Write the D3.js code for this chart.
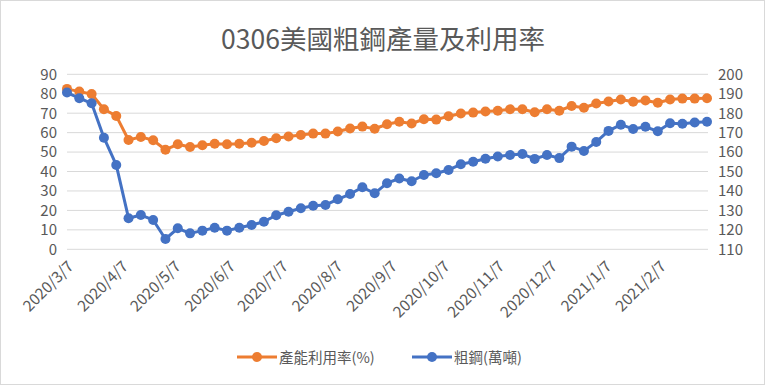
<!DOCTYPE html>
<html><head><meta charset="utf-8">
<script src="https://cdn.jsdelivr.net/npm/d3@7"></script>
<style>
html,body{margin:0;padding:0;background:#fff;}
text{font-family:"Noto Sans CJK TC","Noto Sans",sans-serif;}
</style></head>
<body>
<svg id="chart" width="765" height="385"></svg>
<script>
const title = "0306美國粗鋼產量及利用率";
const startDate = "2020-03-07";
const weeks = 53;
const seriesNames = ["產能利用率(%)", "粗鋼(萬噸)"];
const utilization = [82.5,81.1,79.9,72.0,68.6,56.2,57.8,56.1,51.2,54.0,52.6,53.5,54.3,54.0,54.3,54.8,55.7,57.1,58.0,58.8,59.5,59.5,60.6,62.1,63.1,62.0,64.3,65.6,64.7,66.9,66.7,68.4,69.8,70.3,70.9,71.3,72.0,72.0,70.5,72.0,71.3,73.7,72.8,75.0,76.0,77.0,75.9,76.5,75.4,77.0,77.5,77.5,77.7];
const crudeSteel = [190.6,187.7,185.1,167.4,153.4,126.0,127.6,125.1,115.3,120.8,118.2,119.6,121.1,119.6,121.1,122.5,124.2,127.5,129.3,131.1,132.4,132.8,135.7,138.4,141.9,138.8,144.0,146.4,145.0,148.2,149.1,150.8,153.7,155.0,156.6,157.7,158.5,159.0,156.5,158.5,156.9,162.8,160.6,165.2,170.9,174.1,171.9,173.0,170.7,174.8,174.6,175.2,175.6];
const leftTicks = [0,10,20,30,40,50,60,70,80,90];
const rightTicks = [110,120,130,140,150,160,170,180,190,200];
const xTickLabels = ["2020/3/7","2020/4/7","2020/5/7","2020/6/7","2020/7/7","2020/8/7","2020/9/7","2020/10/7","2020/11/7","2020/12/7","2021/1/7","2021/2/7"];

const parse = d3.timeParse("%Y-%m-%d");
const parseLbl = d3.timeParse("%Y/%m/%d");
const d0 = parse(startDate);
const dates = d3.range(weeks).map(i => d3.timeDay.offset(d0, 7*i));

const svg = d3.select("#chart");
const W = 765, H = 385;
const L = 67, R = 707, T = 74.3, B = 249.3;
const grey = "#595959";

svg.append("rect").attr("x",0.5).attr("y",0.5).attr("width",W-1).attr("height",H-1)
  .attr("fill","#fff").attr("stroke","#D9D9D9");

const x = d3.scaleTime().domain([dates[0], dates[dates.length-1]]).range([L, R]);
const yL = d3.scaleLinear().domain([0,90]).range([B, T]);
const yR = d3.scaleLinear().domain([110,200]).range([B, T]);

// gridlines
svg.append("g").selectAll("line").data(leftTicks).join("line")
  .attr("x1",L).attr("x2",R+1).attr("y1",d=>yL(d)).attr("y2",d=>yL(d))
  .attr("stroke","#D9D9D9").attr("stroke-width",1);

// left axis
const ga = svg.append("g").attr("transform",`translate(${L-10},0)`)
  .call(d3.axisLeft(yL).tickValues(leftTicks).tickSize(0).tickPadding(0));
ga.select(".domain").remove();
ga.selectAll("text").attr("fill",grey).style("font-size","15px").attr("font-family","\"Noto Sans\",sans-serif");

// right axis
const gr = svg.append("g").attr("transform",`translate(${R+11},0)`)
  .call(d3.axisRight(yR).tickValues(rightTicks).tickSize(0).tickPadding(0));
gr.select(".domain").remove();
gr.selectAll("text").attr("fill",grey).style("font-size","15px").attr("font-family","\"Noto Sans\",sans-serif");

// x labels
const gx = svg.append("g").attr("transform",`translate(0,${B})`)
  .call(d3.axisBottom(x).tickValues(xTickLabels.map(s=>parseLbl(s))).tickSize(0).tickFormat((d,i)=>xTickLabels[i]));
gx.select(".domain").remove();
gx.selectAll("text").attr("fill",grey).style("font-size","15.5px").attr("font-family","\"Noto Sans\",sans-serif")
  .attr("text-anchor","end").attr("dy",null).attr("y",0)
  .attr("transform","translate(7,18) rotate(-45)");

// lines
const lineL = d3.line().x((d,i)=>x(dates[i])).y(d=>yL(d));
const lineR = d3.line().x((d,i)=>x(dates[i])).y(d=>yR(d));
const orange = "#ED7D31", blue = "#4472C4";

function drawSeries(vals, gen, scale, color){
  const g = svg.append("g");
  g.append("path").datum(vals).attr("d",gen).attr("fill","none").attr("stroke",color)
    .attr("stroke-width",3).attr("stroke-linejoin","round");
  g.selectAll("circle").data(vals).join("circle")
    .attr("cx",(d,i)=>x(dates[i])).attr("cy",d=>scale(d)).attr("r",5).attr("fill",color);
}
drawSeries(utilization, lineL, yL, orange);
drawSeries(crudeSteel, lineR, yR, blue);

// title
svg.append("text").attr("x",383).attr("y",49).attr("text-anchor","middle")
  .attr("fill",grey).style("font-size","26.5px").text(title);

// legend
const legend = [{name:seriesNames[0],color:orange,x:237},{name:seriesNames[1],color:blue,x:412}];
const lg = svg.append("g").selectAll("g").data(legend).join("g")
  .attr("transform",d=>`translate(${d.x},357)`);
lg.append("line").attr("x1",0).attr("x2",40).attr("stroke",d=>d.color).attr("stroke-width",3);
lg.append("circle").attr("cx",20).attr("r",5).attr("fill",d=>d.color);
lg.append("text").attr("x",42).attr("y",5.5).attr("fill",grey).style("font-size","14.5px").text(d=>d.name);
</script>
</body></html>
